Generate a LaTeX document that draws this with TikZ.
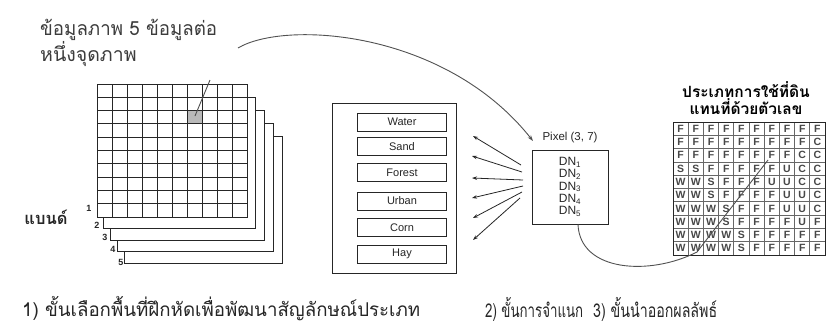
\documentclass[tikz,border=0pt]{standalone}
\usepackage{fontspec}
\setmainfont{Liberation Sans}
\newfontfamily\thaifont[Script=Thai]{Loma}
\usetikzlibrary{arrows.meta}
\definecolor{ink}{HTML}{262626}
\definecolor{thaigray}{HTML}{3C3C3C}
\tikzset{
  frame/.style={draw=ink, line width=1pt, fill=white},
  catbox/.style={draw=ink, line width=0.9pt, minimum width=89pt, minimum height=18pt, inner sep=0pt, font=\fontsize{11}{12}\selectfont, text=ink},
  thailbl/.style={font=\thaifont\fontsize{19.5}{25}\selectfont, text=thaigray, align=left, inner sep=0pt},
  caption/.style={font=\thaifont\fontsize{19}{21}\selectfont, text=ink, inner sep=0pt, anchor=west},
  bandnum/.style={font=\bfseries\fontsize{9}{10}\selectfont, text=ink, inner sep=0pt},
  fanarrow/.style={draw=ink, line width=0.8pt, -{Stealth[length=5pt,width=3.5pt]}},
  conn/.style={draw=ink!80, line width=0.9pt},
  cellletter/.style={font=\bfseries\fontsize{10.5}{11}\selectfont, text=ink!85, inner sep=0pt}
}
\begin{document}
\begin{tikzpicture}[x=1pt,y=-1pt]
\useasboundingbox[fill=white] (0,0) rectangle (840,327);

% ---- band stack ----
\foreach \k in {4,3,2,1} {
  \draw[frame] ({97+6.75*\k},{84+13*\k}) rectangle ({247+8.75*\k},{217+11.5*\k});
}
\draw[frame] (97,84) rectangle (247,217);
\fill[gray!55] (187,110.6) rectangle (202,123.9);
\foreach \i in {1,...,9} {
  \draw[ink, line width=0.9pt] ({97+15*\i},84) -- ({97+15*\i},217);
  \draw[ink, line width=0.9pt] (97,{84+13.3*\i}) -- (247,{84+13.3*\i});
}
\draw[frame, fill=none] (97,84) rectangle (247,217);
\coordinate (pixA) at (195,116);
\coordinate (pixAtop) at (210,80);
\draw[conn] (pixA) -- (pixAtop);

\node[bandnum] (n1) at (89,208) {1};
\node[bandnum] (n2) at (97,225) {2};
\node[bandnum] (n3) at (105,237) {3};
\node[bandnum] (n4) at (113,249) {4};
\node[bandnum] (n5) at (121,262) {5};
\node[font=\thaifont\bfseries\fontsize{16.5}{17}\selectfont, text=ink, inner sep=0pt] (band) at (46,217) {แบนด์};

\node[thailbl, anchor=north west] (toplabel) at (40,19)
  {\resizebox{177pt}{\height}{ข้อมูลภาพ 5 ข้อมูลต่อ}\\หนึ่งจุดภาพ};

% ---- class boxes ----
\node[draw=ink, line width=1pt, minimum width=124pt, minimum height=170pt, inner sep=0pt] (catframe) at (394,188) {};
\node[catbox] (water) at (402,122) {Water};
\node[catbox] (sand) at (402,146.5) {Sand};
\node[catbox] (forest) at (402,172.5) {Forest};
\node[catbox] (urban) at (402,201) {Urban};
\node[catbox] (corn) at (402,227.5) {Corn};
\node[catbox] (hay) at (402,254) {Hay};

% ---- pixel DN box ----
\node[draw=ink, line width=1pt, minimum width=76pt, minimum height=74pt, align=center, inner sep=0pt,
      font=\fontsize{12}{12.4}\selectfont, text=ink] (dnbox) at (570,187)
  {DN\textsubscript{1}\\DN\textsubscript{2}\\DN\textsubscript{3}\\DN\textsubscript{4}\\DN\textsubscript{5}};
\node[font=\fontsize{11.5}{12}\selectfont, text=ink, inner sep=0pt] (pixlabel) at (570,138) {Pixel (3, 7)};

% fan of arrows
\coordinate (s1) at (521,165); \coordinate (t1) at (473,136);
\coordinate (s2) at (522,172); \coordinate (t2) at (472,156);
\coordinate (s3) at (523,180); \coordinate (t3) at (472,178);
\coordinate (s4) at (523,186); \coordinate (t4) at (472,198);
\coordinate (s5) at (522,192); \coordinate (t5) at (473,218);
\coordinate (s6) at (520,198); \coordinate (t6) at (473,240);
\foreach \i in {1,...,6} { \draw[fanarrow] (s\i) -- (t\i); }

% top curve
\coordinate (curveStart) at (238,48);
\coordinate (curveEnd) at (533,141);
\draw[conn, -{Stealth[length=6pt,width=4pt]}] (curveStart) .. controls (285,20) and (445,30) .. (curveEnd);

% ---- result grid ----
\node[font=\thaifont\bfseries\fontsize{15.5}{15}\selectfont, text=black, align=center, inner sep=0pt] (heading) at (746,98) {ประเภทการใช้ที่ดิน\\แทนที่ด้วยตัวเลข};
\draw[frame] (673,122) rectangle (825,255);
\foreach \i in {1,...,9} {
  \draw[ink!70, line width=0.7pt] ({673+15.2*\i},122) -- ({673+15.2*\i},255);
  \draw[ink!70, line width=0.7pt] (673,{122+13.3*\i}) -- (825,{122+13.3*\i});
}
\foreach \row [count=\r] in {
  {F,F,F,F,F,F,F,F,F,F},
  {F,F,F,F,F,F,F,F,F,C},
  {F,F,F,F,F,F,F,F,C,C},
  {S,S,F,F,F,F,F,U,C,C},
  {W,W,S,F,F,F,U,U,C,C},
  {W,W,S,F,F,F,F,U,U,C},
  {W,W,W,S,F,F,F,U,U,C},
  {W,W,W,S,F,F,F,F,U,F},
  {W,W,W,W,S,F,F,F,F,F},
  {W,W,W,W,S,F,F,F,F,F}} {
  \foreach \ch [count=\c] in \row {
    \node[cellletter] at ({673+15.2*(\c-0.5)},{122+13.3*(\r-0.5)}) {\ch};
  }
}
\draw[frame, fill=none] (673,122) rectangle (825,255);

% bottom curve into grid
\coordinate (gridEntry) at (697,252);
\coordinate (gridPix) at (768,160);
\draw[conn] (dnbox.south) ++(8,0) coordinate (dnOut)
  .. controls (580,272) and (650,276) .. (gridEntry) -- (gridPix);

% ---- captions ----
\node[caption] (cap1) at (22,309) {\resizebox{398pt}{\height}{1) ขั้นเลือกพื้นที่ฝึกหัดเพื่อพัฒนาสัญลักษณ์ประเภท}};
\node[caption] (cap2) at (485,309) {\resizebox{98pt}{\height}{2) ขั้นการจำแนก}};
\node[caption] (cap3) at (593,309) {\resizebox{124pt}{\height}{3) ขั้นนำออกผลลัพธ์}};
\end{tikzpicture}
\end{document}
